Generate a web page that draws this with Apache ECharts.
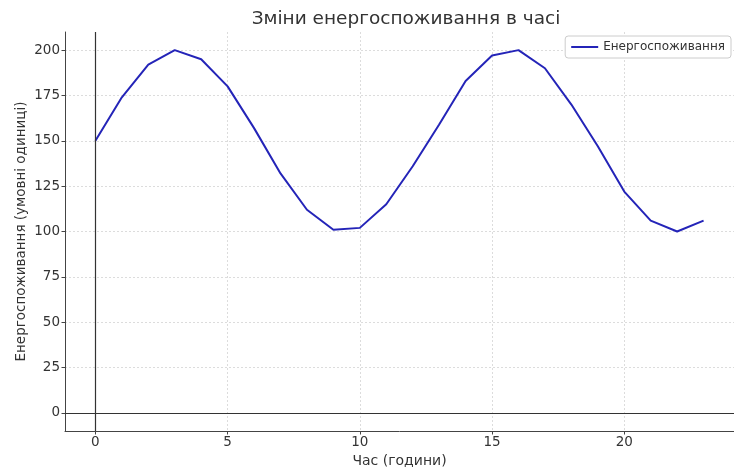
<!DOCTYPE html>
<html><head><meta charset="utf-8">
<script src="https://cdn.jsdelivr.net/npm/echarts@6/dist/echarts.min.js"></script>
<style>html,body{margin:0;padding:0;background:#fff}#c{width:734px;height:473px}</style>
</head><body><div id="c"></div>
<script>
const hours = [0,1,2,3,4,5,6,7,8,9,10,11,12,13,14,15,16,17,18,19,20,21,22,23];
const energy = [150,174,192,200,195,180,157,132,112,101,102,115,136,159,183,197,200,190,170,147,122,106,100,106];
const xTicks = [0,5,10,15,20];
const yTicks = [0,25,50,75,100,125,150,175,200];
const seriesName = 'Енергоспоживання';
const FONT = 'DejaVu Sans';
const chart = echarts.init(document.getElementById('c'), null, {renderer:'canvas'});
chart.setOption({
  animation:false,
  backgroundColor:'#fff',
  title:{text:'Зміни енергоспоживання в часі', left:401, top:5, textAlign:'center',
    textStyle:{fontFamily:FONT, fontSize:18.5, fontWeight:'normal', color:'#333'}},
  legend:{right:3, top:36, orient:'horizontal', data:[{name:seriesName, icon:'rect'}],
    itemWidth:27, itemHeight:2, itemGap:8, padding:[5,6,5,6],
    borderColor:'#ccc', borderWidth:1, borderRadius:3, backgroundColor:'#fff',
    textStyle:{fontFamily:FONT, fontSize:12, color:'#333'}},
  grid:{left:65, right:0, top:32, bottom:40, containLabel:false},
  xAxis:{type:'value', min:-1.15, max:24.15,
    name:'Час (години)', nameLocation:'middle', nameGap:23, nameMoveOverlap:false,
    nameTextStyle:{fontFamily:FONT, fontSize:14, color:'#333'},
    axisLine:{onZero:false, lineStyle:{color:'#444', width:1}},
    axisTick:{show:true, length:3.5, inside:false, customValues:xTicks, lineStyle:{color:'#444'}},
    axisLabel:{customValues:xTicks, fontFamily:FONT, fontSize:13.5, color:'#333', margin:4},
    splitLine:{show:true, lineStyle:{color:'#dcdcdc', type:[2,2], width:1}}},
  yAxis:{type:'value', min:-10, max:210,
    name:'Енергоспоживання (умовні одиниці)', nameLocation:'middle', nameGap:37, nameMoveOverlap:false,
    nameTextStyle:{fontFamily:FONT, fontSize:13.5, color:'#333'},
    axisLine:{show:true, onZero:false, lineStyle:{color:'#444', width:1}},
    axisTick:{show:true, length:3.5, customValues:yTicks, lineStyle:{color:'#444'}},
    axisLabel:{customValues:yTicks, fontFamily:FONT, fontSize:13.5, color:'#333', margin:5},
    splitLine:{show:true, lineStyle:{color:'#dcdcdc', type:[2,2], width:1}}},
  series:[{name:seriesName, type:'line', data:hours.map((h,i)=>[h,energy[i]]),
    symbol:'none', showSymbol:false, color:'#2424b8', lineStyle:{width:2, color:'#2424b8'},
    markLine:{silent:true, symbol:'none', label:{show:false},
      lineStyle:{color:'#333', width:1.2, type:'solid'},
      data:[{xAxis:0},{yAxis:0}]}}]
});
</script></body></html>
